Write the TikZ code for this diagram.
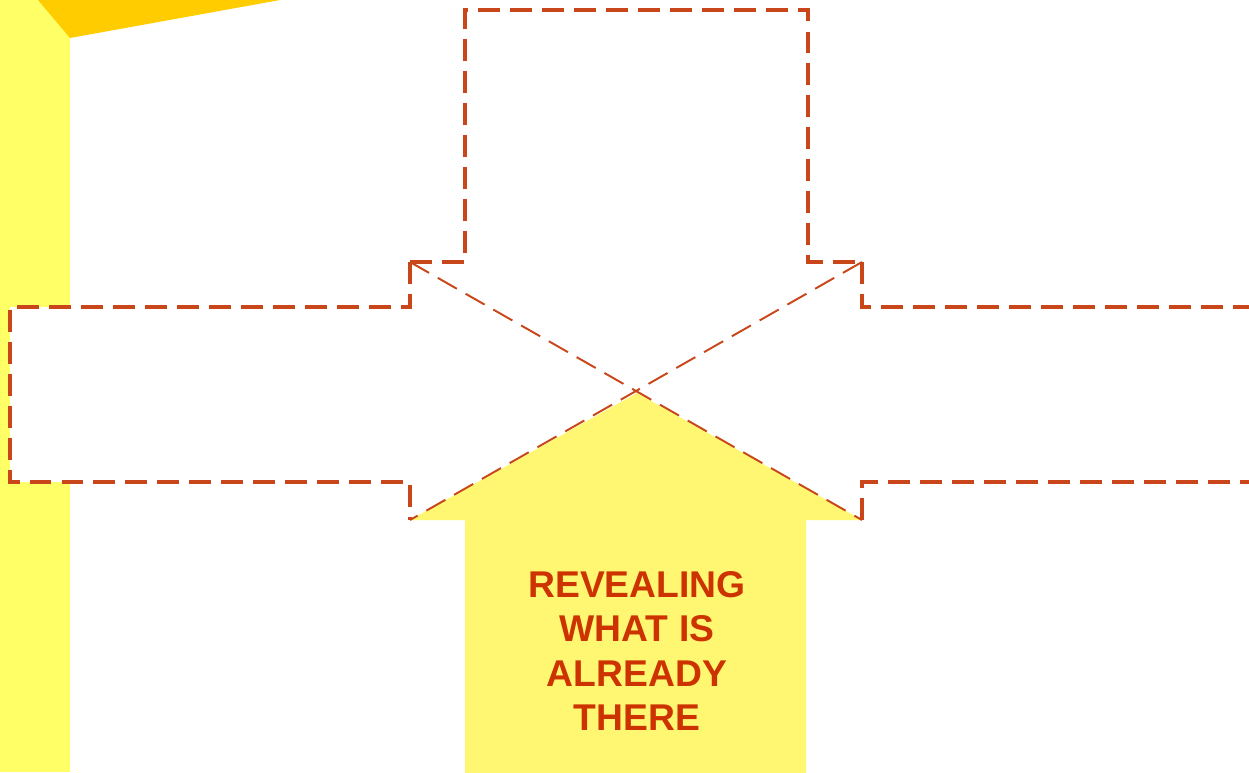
\documentclass[tikz,border=0pt]{standalone}
\usepackage{fontspec}
\setmainfont{Liberation Sans}
\usetikzlibrary{positioning}

\definecolor{stripyellow}{HTML}{FFFF66}
\definecolor{gold}{HTML}{FFCC00}
\definecolor{arrowyellow}{HTML}{FFF771}
\definecolor{rust}{HTML}{C8461A}
\definecolor{textred}{HTML}{CC3300}

\begin{document}
\begin{tikzpicture}[
  x=0.02cm, y=-0.02cm,
  edge/.style={draw=rust, line width=2pt, dash pattern=on 12.5pt off 5.7pt},
  diag/.style={draw=rust, line width=1.1pt, dash pattern=on 12.5pt off 5.7pt},
  caption/.style={text=textred, align=center, inner sep=0pt,
    font=\fontsize{21.2}{25.2}\selectfont\bfseries}
]
\useasboundingbox (0,0) rectangle (1249,772);
\clip (0,0) rectangle (1249,772);
% corners of the four arrow heads
\coordinate (c) at (637,393);
\coordinate (nw) at (410,262);
\coordinate (ne) at (862,262);
\coordinate (se) at (862,520);
\coordinate (sw) at (410,520);
% background pieces
\fill[stripyellow] (0,0) rectangle (70,772);
\fill[gold] (38,0) -- (280,0) -- (70,38) -- cycle;
% white arrows: top, left, right
\fill[white] (465,10) -- (808,10) -- (808,262) -- (ne) -- (c) -- (nw) -- (465,262) -- cycle;
\fill[white] (10,307) -- (410,307) -- (nw) -- (c) -- (sw) -- (410,482) -- (10,482) -- cycle;
\fill[white] (1260,307) -- (862,307) -- (ne) -- (c) -- (se) -- (862,482) -- (1260,482) -- cycle;
% yellow arrow from below
\fill[arrowyellow] (465,780) -- (465,520) -- (sw) -- (c) -- (se) -- (806,520) -- (806,780) -- cycle;
% dashed outlines
\draw[edge] (nw) -- (465,262) -- (465,10) -- (808,10) -- (808,262) -- (ne);
\draw[edge] (nw) -- (410,307) -- (10,307) -- (10,482) -- (410,482) -- (sw);
\draw[edge] (ne) -- (862,307) -- (1260,307);
\draw[edge] (se) -- (862,482) -- (1260,482);
\draw[diag] (nw) -- (se);
\draw[diag] (ne) -- (sw);
\node[caption] (label) at (637,651) {REVEALING\\WHAT IS\\ALREADY\\THERE};
\end{tikzpicture}
\end{document}
